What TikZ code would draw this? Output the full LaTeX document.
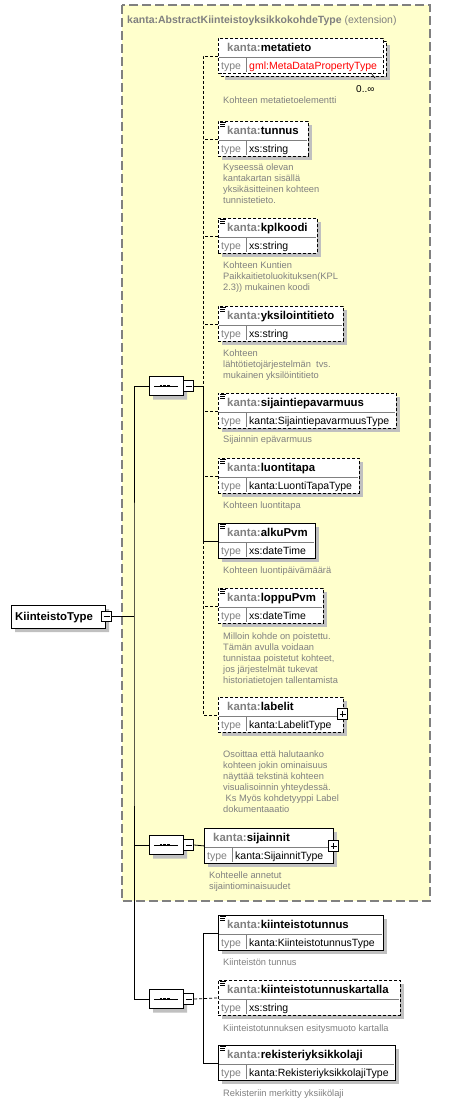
\documentclass[tikz,border=0pt]{standalone}
\usepackage{fontspec}
\setmainfont{Liberation Sans}
\usetikzlibrary{shapes.misc}
\definecolor{ylw}{RGB}{255,255,204}
\definecolor{kgray}{RGB}{128,128,128}
\definecolor{shd}{RGB}{192,192,192}
\definecolor{typered}{RGB}{255,0,0}
\tikzset{
  elembox/.style={rectangle, draw=black, fill=white, line width=0.8pt, minimum height=35pt, inner sep=0pt, anchor=north west},
  dsh/.style={dash pattern=on 3pt off 2pt},
  sld/.style={},
  divline/.style={draw=kgray, line width=0.6pt},
  hdr/.style={anchor=base west, inner sep=0pt, font=\fontsize{11.4}{13}\selectfont\bfseries},
  typelbl/.style={anchor=base west, inner sep=0pt, font=\fontsize{10.5}{12}\selectfont, text=kgray},
  typetxt/.style={anchor=base west, inner sep=0pt, font=\fontsize{10.5}{12}\selectfont},
  desc/.style={anchor=north west, inner sep=0pt, align=left, font=\fontsize{9.3}{11}\selectfont, text=kgray},
  conn/.style={draw=black, line width=0.8pt},
  dconn/.style={draw=black, line width=0.8pt, dash pattern=on 3pt off 2pt},
  seqnode/.style={chamfered rectangle, chamfered rectangle xsep=5pt, chamfered rectangle ysep=5pt, draw=black, fill=white, line width=0.8pt, minimum width=34pt, minimum height=19pt, inner sep=0pt},
  seqshadow/.style={seqnode, draw=none, fill=shd},
  pmbox/.style={rectangle, draw=black, fill=white, minimum size=10.5pt, inner sep=0pt, line width=0.8pt},
  rootnode/.style={chamfered rectangle, chamfered rectangle corners={north west,south west}, chamfered rectangle xsep=4pt, chamfered rectangle ysep=4pt, draw=black, fill=white, line width=0.8pt, minimum width=94pt, minimum height=23pt, inner sep=0pt},
  rootshadow/.style={rootnode, draw=none, fill=shd},
}
% #1 id, #2 x, #3 y top, #4 width, #5 line style, #6 name, #7 type, #8 type colour
\newcommand\xelem[8]{%
  \fill[shd] (#2+4,#3+4) rectangle (#2+#4+4,#3+39);
  \node[elembox,#5,minimum width=#4pt] (#1) at (#2,#3) {};
  \draw[divline] (#2+0.6,#3+19) -- (#2+#4-0.6,#3+19) (#2+28,#3+19) -- (#2+28,#3+34.4);
  \node[hdr] (#1-h) at (#2+9,#3+13.5) {\textcolor{kgray}{kanta:}#6};
  \node[typelbl] (#1-tl) at (#2+3,#3+31) {type};
  \node[typetxt,text=#8] (#1-tt) at (#2+31,#3+31) {#7};
}
\newcommand\seicon[2]{%
  \draw[line width=0.7pt] (#1+2,#2+1.8) -- ++(6,0) (#1+2,#2+3.8) -- ++(5,0) (#1+2,#2+5.8) -- ++(5,0);
}
\newcommand\seqdeco[1]{%
  \draw[line width=0.8pt] ([xshift=-12pt]#1.center) -- ([xshift=12pt]#1.center);
  \fill ([xshift=-6.5pt,yshift=-1.4pt]#1.center) rectangle ++(2.8pt,2.8pt);
  \fill ([xshift=-2.8pt,yshift=-1.4pt]#1.center) rectangle ++(2.8pt,2.8pt);
  \fill ([xshift=0.9pt,yshift=-1.4pt]#1.center) rectangle ++(2.8pt,2.8pt);
}
\newcommand\minussign[1]{\draw[line width=0.7pt] ([xshift=-3pt]#1.center) -- ([xshift=3pt]#1.center);}
\newcommand\plussign[1]{\draw[line width=0.7pt] ([xshift=-3pt]#1.center) -- ([xshift=3pt]#1.center) ([yshift=-3pt]#1.center) -- ([yshift=3pt]#1.center);}

\begin{document}
\begin{tikzpicture}[x=1pt,y=-1pt]
\useasboundingbox (0,0) rectangle (473,1103);
\fill[white] (0,0) rectangle (473,1103);

% extension frame
\draw[draw=kgray, line width=1.1pt, dash pattern=on 9pt off 4pt, fill=ylw] (122,5) rectangle (430,901);
\node[anchor=base west, inner sep=0pt, font=\fontsize{10.5}{12}\selectfont, text=kgray] (title) at (127,23)
  {\textbf{kanta:AbstractKiinteistoyksikkokohdeType} (extension)};

% root
\node[rootshadow] at (62,620.5) {};
\node[rootnode] (root) at (58,616.5) {};
\node[anchor=base west, inner sep=0pt, font=\fontsize{11.4}{13}\selectfont\bfseries] (rootlbl) at (15,620.5) {KiinteistoType};
\node[pmbox] (rootm) at (106.5,616.5) {};
\minussign{rootm}
\coordinate (jr) at (134,616.5);

% sequences
\node[seqshadow] at (170,390) {};
\node[seqnode] (s1) at (166,386) {};
\seqdeco{s1}
\node[pmbox] (s1m) at (188.5,386) {};
\minussign{s1m}
\node[seqshadow] at (170,849) {};
\node[seqnode] (s2) at (166,845) {};
\seqdeco{s2}
\node[pmbox] (s2m) at (188.5,845) {};
\minussign{s2m}
\node[seqshadow] at (170,1003) {};
\node[seqnode] (s3) at (166,999) {};
\seqdeco{s3}
\node[pmbox] (s3m) at (188.5,999) {};
\minussign{s3m}
\coordinate (j1) at (203,386);
\coordinate (j3) at (203,999);

% metatieto (stacked)
\fill[shd] (225,45) rectangle (390,80);
\draw[dsh, line width=0.8pt, fill=white] (221,41) rectangle (386,76);
\node[elembox,dsh,minimum width=165pt] (metatieto) at (218,38) {};
\draw[divline] (218.6,57) -- (382.4,57) (246,57) -- (246,72.4);
\node[hdr] (metatieto-h) at (227,51.5) {\textcolor{kgray}{kanta:}metatieto};
\node[typelbl] (metatieto-tl) at (221,69) {type};
\node[typetxt,text=typered] (metatieto-tt) at (249,69) {gml:MetaDataPropertyType};
\draw[line width=0.6pt] (371,73) -- (375,78);
\node[anchor=base west, inner sep=0pt, font=\fontsize{10}{12}\selectfont] (mult) at (356,92) {0..∞};
\node[desc] (metatieto-d) at (223,97) {Kohteen metatietoelementti};

\xelem{tunnus}{218}{121}{90}{dsh}{tunnus}{xs:string}{black}
\seicon{218}{121}
\node[desc] (tunnus-d) at (223,164) {Kyseessä olevan\\kantakartan sisällä\\yksikäsitteinen kohteen\\tunnistetieto.};

\xelem{kplkoodi}{218}{218}{99}{dsh}{kplkoodi}{xs:string}{black}
\seicon{218}{218}
\node[desc] (kplkoodi-d) at (223,262) {Kohteen Kuntien\\Paikkaitietoluokituksen(KPL\\2.3)) mukainen koodi};

\xelem{yksilointitieto}{218}{306}{125}{dsh}{yksilointitieto}{xs:string}{black}
\seicon{218}{306}
\node[desc] (yksilointitieto-d) at (223,350) {Kohteen\\lähtötietojärjestelmän\ \ tvs.\\mukainen yksilöintitieto};

\xelem{sijaintiepavarmuus}{218}{393}{178}{dsh}{sijaintiepavarmuus}{kanta:SijaintiepavarmuusType}{black}
\seicon{218}{393}
\node[desc] (sijaintiepavarmuus-d) at (223,436) {Sijainnin epävarmuus};

\xelem{luontitapa}{218}{458}{141}{dsh}{luontitapa}{kanta:LuontiTapaType}{black}
\seicon{218}{458}
\node[desc] (luontitapa-d) at (223,502) {Kohteen luontitapa};

\xelem{alkuPvm}{218}{523}{97}{sld}{alkuPvm}{xs:dateTime}{black}
\seicon{218}{523}
\node[desc] (alkuPvm-d) at (223,567) {Kohteen luontipäivämäärä};

\xelem{loppuPvm}{218}{588}{105}{dsh}{loppuPvm}{xs:dateTime}{black}
\seicon{218}{588}
\node[desc] (loppuPvm-d) at (223,633) {Milloin kohde on poistettu.\\Tämän avulla voidaan\\tunnistaa poistetut kohteet,\\jos järjestelmät tukevat\\historiatietojen tallentamista};

\xelem{labelit}{218}{697}{125}{dsh}{labelit}{kanta:LabelitType}{black}
\node[pmbox] (labelitp) at (342.5,714) {};
\plussign{labelitp}
\node[desc] (labelit-d) at (223,751) {Osoittaa että halutaanko\\kohteen jokin ominaisuus\\näyttää tekstinä kohteen\\visualisoinnin yhteydessä.\\\hspace*{2.5pt}Ks Myös kohdetyyppi Label\\dokumentaaatio};

\xelem{sijainnit}{204}{828}{129}{sld}{sijainnit}{kanta:SijainnitType}{black}
\node[pmbox] (sijainnitp) at (333.5,846) {};
\plussign{sijainnitp}
\node[desc] (sijainnit-d) at (209,872) {Kohteelle annetut\\sijaintiominaisuudet};

\xelem{kiinteistotunnus}{218}{915}{165}{sld}{kiinteistotunnus}{kanta:KiinteistotunnusType}{black}
\seicon{218}{915}
\node[desc] (kiinteistotunnus-d) at (223,959) {Kiinteistön tunnus};

\xelem{kartalla}{218}{980}{182}{dsh}{kiinteistotunnuskartalla}{xs:string}{black}
\seicon{218}{980}
\node[desc] (kartalla-d) at (223,1025) {Kiinteistotunnuksen esitysmuoto kartalla};

\xelem{rekisteri}{218}{1045}{177}{sld}{rekisteriyksikkolaji}{kanta:RekisteriyksikkolajiType}{black}
\seicon{218}{1045}
\node[desc] (rekisteri-d) at (223,1090) {Rekisteriin merkitty yksiikölaji};

% connectors: root
\draw[conn] (rootm.east) -- (jr);
\draw[conn] (s1.west) -| (jr) |- (s3.west);
\draw[conn] (s2.west) -- (s2.west -| jr);
\draw[conn] (s1.east) -- (s1m.west);
\draw[conn] (s2.east) -- (s2m.west);
\draw[conn] (s3.east) -- (s3m.west);

% first sequence
\draw[conn] (s1m.east) -- (j1);
\draw[dconn] (metatieto.west) -| (j1);
\draw[dconn] (tunnus.west) -- (tunnus.west -| j1);
\draw[dconn] (kplkoodi.west) -- (kplkoodi.west -| j1);
\draw[dconn] (yksilointitieto.west) -- (yksilointitieto.west -| j1);
\draw[conn] (j1) |- (alkuPvm.west);
\draw[dconn] (sijaintiepavarmuus.west) -- (sijaintiepavarmuus.west -| j1);
\draw[dconn] (luontitapa.west) -- (luontitapa.west -| j1);
\draw[dconn] (alkuPvm.west -| j1) |- (labelit.west);
\draw[dconn] (loppuPvm.west) -- (loppuPvm.west -| j1);

% second sequence
\draw[conn] (s2m.east) -- (sijainnit.west);

% third sequence
\draw[conn] (kiinteistotunnus.west) -- (kiinteistotunnus.west -| j3) -- (rekisteri.west -| j3) -- (rekisteri.west);
\draw[dconn] (s3m.east) -- (kartalla.west);
\end{tikzpicture}
\end{document}
